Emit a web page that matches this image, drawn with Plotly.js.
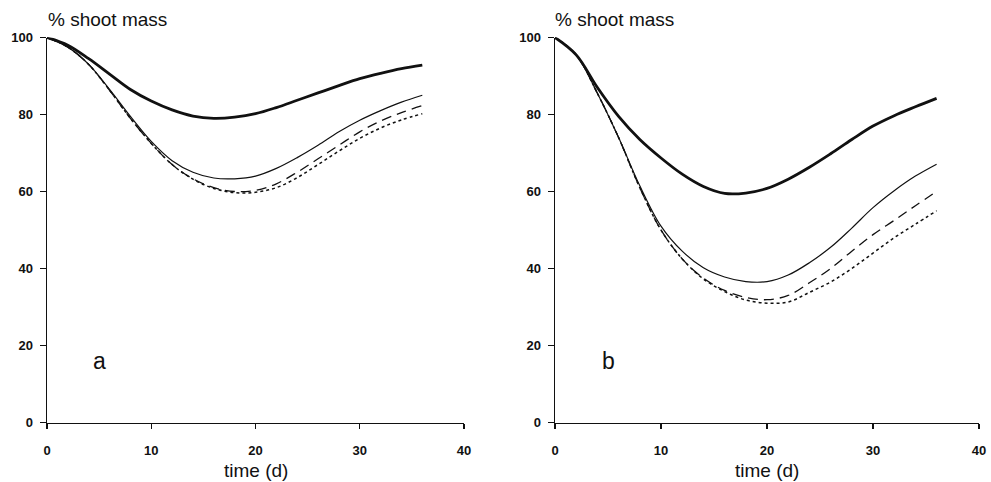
<!DOCTYPE html>
<html>
<head>
<meta charset="utf-8">
<script src="https://cdn.plot.ly/plotly-3.0.1.min.js"></script>
<style>html,body{margin:0;padding:0;background:#fff;}#chart{width:991px;height:482px;}</style>
</head>
<body>
<div id="chart"></div>
<script>
// time (d)
const time = [0, 2, 4, 6, 8, 10, 12, 14, 16, 18, 20, 22, 24, 26, 28, 30, 32, 34, 36];

// Panel a
const aThick  = [100, 98, 94.5, 90.5, 86.5, 83.5, 81.2, 79.6, 79, 79.3, 80.2, 81.8, 83.7, 85.6, 87.5, 89.3, 90.7, 91.9, 92.8];
const aThin   = [100, 97.5, 93, 86.5, 79.5, 73, 68, 65, 63.5, 63.3, 64, 66, 68.8, 72, 75.5, 78.5, 81, 83.2, 85];
const aDashed = [100, 97.5, 93, 86.3, 79, 72.5, 67, 63.3, 61, 60, 60.3, 62, 65, 68.5, 72, 75.5, 78.3, 80.5, 82.3];
const aDotted = [100, 97.5, 93, 86.3, 79, 72.5, 67, 63.2, 60.8, 59.7, 59.8, 61, 63.6, 67, 70.5, 73.8, 76.5, 78.6, 80.2];

// Panel b
const bThick  = [100, 95.5, 87, 79.5, 73.5, 68.7, 64.5, 61.3, 59.5, 59.6, 60.8, 63.2, 66.3, 69.8, 73.5, 77, 79.7, 82, 84.2];
const bThin   = [100, 95.5, 85.5, 74, 61.5, 51, 44.5, 40.2, 37.8, 36.6, 36.6, 38.3, 41.5, 45.5, 50.5, 55.8, 60.2, 64, 67.1];
const bDashed = [100, 95.5, 85.5, 74, 61, 50, 42.5, 37.5, 34.3, 32.5, 31.9, 33, 36.3, 40, 44.5, 48.8, 52.5, 56.3, 60];
const bDotted = [100, 95.5, 85.5, 74, 61, 50, 42.5, 37.3, 34, 31.8, 31, 31.3, 33.8, 36.5, 40, 44, 48, 51.5, 55];

const xTicks = [0, 10, 20, 30, 40];
const yTicks = [0, 20, 40, 60, 80, 100];

const panelLabels = ['a', 'b'];
const yTitle = '% shoot mass';
const xTitle = 'time (d)';

const FONT = 'Liberation Sans, Arial, Helvetica, sans-serif';

function tr(y, xa, ya, w, dash) {
  return {x: time, y: y, xaxis: xa, yaxis: ya, type: 'scatter', mode: 'lines',
          line: {color: '#111', width: w, dash: dash, shape: 'spline', smoothing: 1}, hoverinfo: 'skip'};
}

const data = [
  tr(aDotted, 'x', 'y', 1.5, 'dot'),
  tr(aDashed, 'x', 'y', 1.3, '10px,6px'),
  tr(aThin, 'x', 'y', 1.2, 'solid'),
  tr(aThick, 'x', 'y', 2.8, 'solid'),
  tr(bDotted, 'x2', 'y2', 1.5, 'dot'),
  tr(bDashed, 'x2', 'y2', 1.3, '10px,6px'),
  tr(bThin, 'x2', 'y2', 1.2, 'solid'),
  tr(bThick, 'x2', 'y2', 2.8, 'solid')
];

const tickFont = {family: FONT, size: 13, color: '#111', weight: 'bold'};

function xax(domain, anchor) {
  return {domain: domain, anchor: anchor, range: [0, 40], tickvals: xTicks, ticktext: xTicks.map(String),
    showgrid: false, zeroline: false, showline: true, linecolor: '#111', linewidth: 1.4,
    ticks: 'outside', ticklen: 5, tickwidth: 1.3, tickcolor: '#111', tickfont: tickFont,
    ticklabelstandoff: 10};
}
function yax(domain, anchor) {
  return {domain: domain, anchor: anchor, range: [0, 100], tickvals: yTicks, ticktext: yTicks.map(String),
    showgrid: false, zeroline: false, showline: true, linecolor: '#111', linewidth: 1.4,
    ticks: 'outside', ticklen: 6, tickwidth: 1.3, tickcolor: '#111', tickfont: tickFont,
    ticklabelstandoff: 4};
}

const yDom = [1 - 422.5 / 482, 1 - 37.5 / 482];
const xDomA = [47 / 991, 464 / 991];
const xDomB = [555 / 991, 979 / 991];

function ann(x, y, text, size, xanchor) {
  return {xref: 'paper', yref: 'paper', x: x, y: y, xanchor: xanchor, yanchor: 'middle',
          text: text, showarrow: false, font: {family: FONT, size: size, color: '#111'}};
}

const layout = {
  width: 991, height: 482,
  margin: {l: 0, r: 0, t: 0, b: 0},
  paper_bgcolor: '#fff', plot_bgcolor: '#fff',
  showlegend: false,
  xaxis: xax(xDomA, 'y'),
  yaxis: yax(yDom, 'x'),
  xaxis2: xax(xDomB, 'y2'),
  yaxis2: yax(yDom, 'x2'),
  annotations: [
    ann(46 / 991, 1 - 20 / 482, yTitle, 19, 'left'),
    ann(553 / 991, 1 - 20 / 482, yTitle, 19, 'left'),
    ann((xDomA[0] + xDomA[1]) / 2, 1 - 470 / 482, xTitle, 19, 'center'),
    ann((xDomB[0] + xDomB[1]) / 2, 1 - 470 / 482, xTitle, 19, 'center'),
    {xref: 'x', yref: 'y', x: 5, y: 16, xanchor: 'center', yanchor: 'middle', text: panelLabels[0], showarrow: false,
     font: {family: FONT, size: 23, color: '#111'}},
    {xref: 'x2', yref: 'y2', x: 5, y: 16, xanchor: 'center', yanchor: 'middle', text: panelLabels[1], showarrow: false,
     font: {family: FONT, size: 23, color: '#111'}}
  ]
};

Plotly.newPlot('chart', data, layout, {staticPlot: true, displayModeBar: false});
</script>
</body>
</html>
